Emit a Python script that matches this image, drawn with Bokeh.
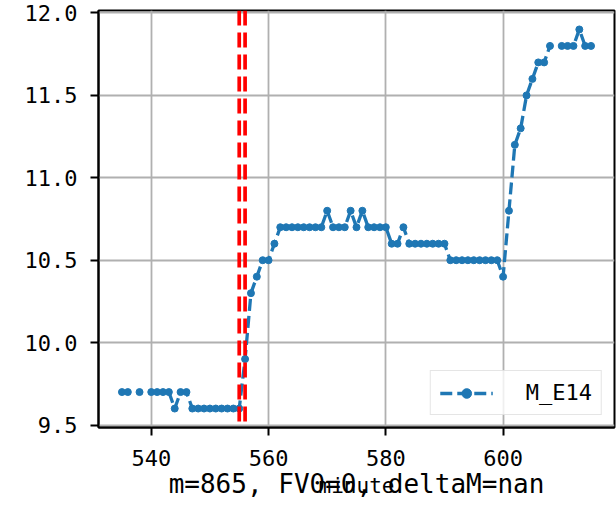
import math
from bokeh.plotting import figure
from bokeh.models import Range1d, Span, LinearAxis, FixedTicker, PrintfTickFormatter
from bokeh.embed import file_html
from bokeh.resources import INLINE

nan = math.nan

# ---- data ----
minutes = list(range(535, 616))
m_e14 = [
    9.7, 9.7, nan, 9.7, nan, 9.7, 9.7, 9.7, 9.7, 9.6, 9.7, 9.7,        # 535-546
    9.6, 9.6, 9.6, 9.6, 9.6, 9.6, 9.6, 9.6, 9.6,                      # 547-555
    9.9, 10.3, 10.4, 10.5, 10.5, 10.6,                                # 556-561
    10.7, 10.7, 10.7, 10.7, 10.7, 10.7, 10.7, 10.7,                   # 562-569
    10.8, 10.7, 10.7, 10.7, 10.8, 10.7, 10.8, 10.7, 10.7, 10.7, 10.7, # 570-580
    10.6, 10.6, 10.7,                                                 # 581-583
    10.6, 10.6, 10.6, 10.6, 10.6, 10.6, 10.6,                         # 584-590
    10.5, 10.5, 10.5, 10.5, 10.5, 10.5, 10.5, 10.5, 10.5,             # 591-599
    10.4, 10.8, 11.2, 11.3, 11.5, 11.6, 11.7, 11.7, 11.8, nan,        # 600-609
    11.8, 11.8, 11.8, 11.9, 11.8, 11.8,                               # 610-615
]
series_name = "M_E14"
event_minutes = [555, 556]
x_ticks = [540, 560, 580, 600]
y_ticks = [9.5, 10.0, 10.5, 11.0, 11.5, 12.0]
x_label = "minute"
caption = "m=865, FV0=0, deltaM=nan"

# ---- ranges (matplotlib-like 5% margins) ----
vals = [v for v in m_e14 if not math.isnan(v)]
x_lo = min(minutes) - 0.05 * (max(minutes) - min(minutes))
x_hi = max(minutes) + 0.05 * (max(minutes) - min(minutes))
y_lo = min(vals) - 0.05 * (max(vals) - min(vals))
y_hi = max(vals) + 0.05 * (max(vals) - min(vals))

FONT = "DejaVu Sans Mono"
BLUE = "#1f77b4"

W, H = 616, 506
p = figure(width=W, height=H, output_backend="svg", toolbar_location=None,
           x_range=Range1d(x_lo, x_hi), y_range=Range1d(y_lo, y_hi),
           min_border_left=98, min_border_right=2, min_border_top=10, min_border_bottom=79)

p.background_fill_color = "white"
p.border_fill_color = "white"
p.outline_line_color = "black"
p.outline_line_width = 2

p.xaxis.ticker = FixedTicker(ticks=x_ticks)
p.yaxis.ticker = FixedTicker(ticks=y_ticks)
p.yaxis.formatter = PrintfTickFormatter(format="%.1f")
for ax in (p.xaxis, p.yaxis):
    ax.axis_line_color = "black"
    ax.axis_line_width = 2
    ax.major_tick_line_color = "black"
    ax.major_tick_line_width = 2
    ax.major_tick_out = 8
    ax.major_tick_in = 0
    ax.minor_tick_line_color = None
    ax.major_label_text_font = FONT
    ax.major_label_text_font_size = "22px"
    ax.major_label_text_color = "black"
p.xaxis.major_label_standoff = 14
p.yaxis.major_label_standoff = 13

# caption sits as the main x-axis label
p.xaxis.axis_label = caption
p.xaxis.axis_label_text_font = FONT
p.xaxis.axis_label_text_font_size = "26px"
p.xaxis.axis_label_text_font_style = "normal"
p.xaxis.axis_label_text_color = "black"
p.xaxis.axis_label_standoff = 0

# "minute" label on a bare second axis, pulled up to overlap the caption
ax2 = LinearAxis(ticker=FixedTicker(ticks=[]), axis_line_color=None,
                 major_tick_line_color=None, minor_tick_line_color=None,
                 major_tick_out=0, major_tick_in=0, minor_tick_out=0,
                 major_label_standoff=0,
                 axis_label=x_label, axis_label_standoff=-28,
                 axis_label_text_font=FONT, axis_label_text_font_size="21px",
                 axis_label_text_font_style="normal", axis_label_text_color="black")
p.add_layout(ax2, "below")

p.grid.grid_line_color = "#b0b0b0"
p.grid.grid_line_width = 1.8
p.xgrid.ticker = FixedTicker(ticks=x_ticks)
p.ygrid.ticker = FixedTicker(ticks=y_ticks)

p.line(minutes, m_e14, line_color=BLUE, line_width=3.3, line_dash="12 5",
       legend_label=series_name)
p.scatter(minutes, m_e14, size=7, fill_color=BLUE, line_color=BLUE,
          legend_label=series_name)

for em in event_minutes:
    p.add_layout(Span(location=em, dimension="height", line_color="red",
                      line_width=3.7, line_dash="15 7"))

lg = p.legend[0]
lg.location = "bottom_right"
lg.margin = 12
lg.padding = 9
lg.spacing = 0
lg.glyph_width = 53
lg.glyph_height = 24
lg.label_height = 24
lg.label_standoff = 33
lg.label_text_font = FONT
lg.label_text_font_size = "22px"
lg.label_text_color = "black"
lg.label_text_baseline = "middle"
lg.border_line_color = "#cccccc"
lg.border_line_width = 1.5
lg.background_fill_alpha = 0.8

open("out.html", "w").write(file_html(p, INLINE))
